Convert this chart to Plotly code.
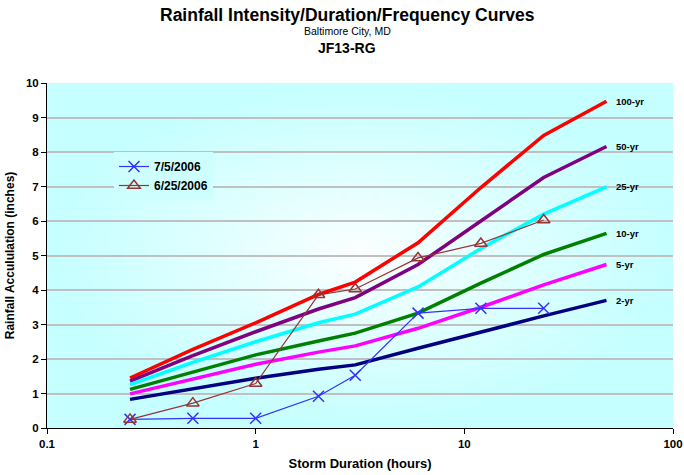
import math
import zlib
import struct
import base64
import numpy as np
import plotly.graph_objects as go

# ---------------- data ----------------
durations = [0.25, 0.5, 1, 2, 3, 6, 12, 24, 48]
idf_labels = ["100-yr", "50-yr", "25-yr", "10-yr", "5-yr", "2-yr"]
idf_100 = [1.45, 2.28, 3.05, 3.87, 4.23, 5.37, 6.97, 8.48, 9.47]
idf_50 = [1.36, 2.10, 2.79, 3.45, 3.78, 4.74, 6.00, 7.26, 8.16]
idf_25 = [1.26, 1.90, 2.50, 3.05, 3.30, 4.09, 5.20, 6.20, 6.99]
idf_10 = [1.12, 1.62, 2.12, 2.52, 2.75, 3.33, 4.20, 5.03, 5.64]
idf_5 = [0.99, 1.43, 1.85, 2.20, 2.38, 2.89, 3.50, 4.15, 4.74]
idf_2 = [0.83, 1.13, 1.44, 1.70, 1.83, 2.31, 2.79, 3.25, 3.70]

obs_durations = [0.25, 0.5, 1, 2, 3, 6, 12, 24]
obs_0705_label = "7/5/2006"
obs_0705 = [0.25, 0.28, 0.28, 0.92, 1.53, 3.33, 3.47, 3.47]
obs_0625_label = "6/25/2006"
obs_0625 = [0.25, 0.72, 1.29, 3.86, 4.03, 4.93, 5.35, 6.03]

x_tickvals = [0.1, 1, 10, 100]
x_ticktext = ["0.1", "1", "10", "100"]
y_tickvals = list(range(0, 11))

# ---------------- styles ----------------
idf_colors = ["#FF0000", "#800080", "#00FFFF", "#008000", "#FF00FF", "#000080"]
FONT = "Liberation Sans, Arial, sans-serif"

# ---------------- background gradient ----------------
W, H = 626, 345
CYAN = np.array([198, 255, 255], dtype=float)
WHITE = np.array([255, 255, 255], dtype=float)


def grad_color(px, py):
    dx = (px - 0.5 * W) / (0.5 * W)
    dy = (py - 0.5 * H) / (0.5 * H)
    t = np.clip(np.sqrt(dx * dx + dy * dy), 0, 1)
    t = t ** 0.85
    return WHITE[None] * (1 - t)[..., None] + CYAN[None] * t[..., None]


def make_png():
    gw, gh = 157, 86
    xs = (np.arange(gw) + 0.5) / gw * W
    ys = (np.arange(gh) + 0.5) / gh * H
    XX, YY = np.meshgrid(xs, ys)
    img = grad_color(XX, YY).reshape(gh, gw, 3).astype(np.uint8)
    raw = b"".join(b"\x00" + img[r].tobytes() for r in range(gh))

    def chunk(tag, data):
        c = struct.pack(">I", len(data)) + tag + data
        return c + struct.pack(">I", zlib.crc32(tag + data) & 0xFFFFFFFF)

    png = b"\x89PNG\r\n\x1a\n"
    png += chunk(b"IHDR", struct.pack(">IIBBBBB", gw, gh, 8, 2, 0, 0, 0))
    png += chunk(b"IDAT", zlib.compress(raw, 9))
    png += chunk(b"IEND", b"")
    return "data:image/png;base64," + base64.b64encode(png).decode()


lg = grad_color(np.array([[140.0 - 47]]), np.array([[176.0 - 83]]))[0, 0]
legend_bg = "rgb(%d,%d,%d)" % tuple(int(v) for v in lg)

# ---------------- figure ----------------
fig = go.Figure()

idf_series = [idf_100, idf_50, idf_25, idf_10, idf_5, idf_2]
for name, vals, col in zip(idf_labels, idf_series, idf_colors):
    fig.add_trace(go.Scatter(
        x=durations, y=vals, mode="lines", name=name,
        line=dict(color=col, width=3.5), showlegend=False,
        hoverinfo="x+y+name",
    ))
    fig.add_annotation(
        x=math.log10(durations[-1]), y=vals[-1], xref="x", yref="y",
        text="<b>%s</b>" % name, showarrow=False, xanchor="left",
        yanchor="middle", xshift=8,
        font=dict(family=FONT, size=9.5, color="#000000"),
    )

fig.add_trace(go.Scatter(
    x=obs_durations, y=obs_0705, mode="lines+markers", name=obs_0705_label,
    line=dict(color="#3333FF", width=1.2),
    marker=dict(symbol="x-thin-open", size=11, color="#3333FF",
                line=dict(color="#3333FF", width=1.5)),
))
fig.add_trace(go.Scatter(
    x=obs_durations, y=obs_0625, mode="lines+markers", name=obs_0625_label,
    line=dict(color="#993333", width=1.2),
    marker=dict(symbol="triangle-up-open", size=11, color="#993333",
                line=dict(color="#993333", width=1.5)),
))

# titles
fig.add_annotation(x=0.48, y=(428 - 15) / 345, xref="paper", yref="paper",
                   text="<b>Rainfall Intensity/Duration/Frequency Curves</b>",
                   showarrow=False, xanchor="center", yanchor="middle",
                   font=dict(family=FONT, size=17.5, color="#000000"))
fig.add_annotation(x=0.48, y=(428 - 31) / 345, xref="paper", yref="paper",
                   text="Baltimore City, MD",
                   showarrow=False, xanchor="center", yanchor="middle",
                   font=dict(family=FONT, size=10.5, color="#000000"))
fig.add_annotation(x=0.48, y=(428 - 48) / 345, xref="paper", yref="paper",
                   text="<b>JF13-RG</b>",
                   showarrow=False, xanchor="center", yanchor="middle",
                   font=dict(family=FONT, size=14, color="#000000"))

fig.add_layout_image(dict(
    source=make_png(), xref="paper", yref="paper", x=0, y=1,
    sizex=1, sizey=1, sizing="stretch", xanchor="left", yanchor="top",
    layer="below",
))

fig.update_layout(
    width=684, height=475,
    margin=dict(l=47, r=11, t=83, b=47, autoexpand=False),
    paper_bgcolor="#FFFFFF",
    plot_bgcolor="#E8FFFF",
    font=dict(family=FONT, color="#000000"),
    showlegend=True,
    legend=dict(
        x=0.107, y=0.80, xanchor="left", yanchor="top",
        bgcolor=legend_bg, borderwidth=0,
        font=dict(family=FONT, size=12, color="#000000", weight="bold"),
        tracegroupgap=0, itemwidth=30,
    ),
    xaxis=dict(
        type="log", range=[-1, 2], automargin=False,
        tickvals=x_tickvals, ticktext=x_ticktext,
        ticks="outside", ticklen=5, tickcolor="#000000",
        ticklabeloverflow="allow",
        showline=True, linecolor="#000000", linewidth=1,
        showgrid=False, zeroline=False,
        tickfont=dict(family=FONT, size=11.5, weight="bold"),
        title=dict(text="Storm Duration (hours)",
                   font=dict(family=FONT, size=13, weight="bold"),
                   standoff=10),
    ),
    yaxis=dict(
        range=[0, 10], tickvals=y_tickvals, automargin=False,
        ticks="outside", ticklen=5, tickcolor="#000000",
        showline=True, linecolor="#000000", linewidth=1,
        showgrid=True, gridcolor="#C0C0C0", gridwidth=1.5,
        zeroline=False,
        tickfont=dict(family=FONT, size=11.5, weight="bold"),
        title=dict(text="Rainfall Accululation (inches)",
                   font=dict(family=FONT, size=12, weight="bold"),
                   standoff=8),
    ),
)

fig.write_html(
    "out.html",
    config={"displayModeBar": False},
    post_script="document.body.style.margin='0px';document.body.style.overflow='hidden';",
)
